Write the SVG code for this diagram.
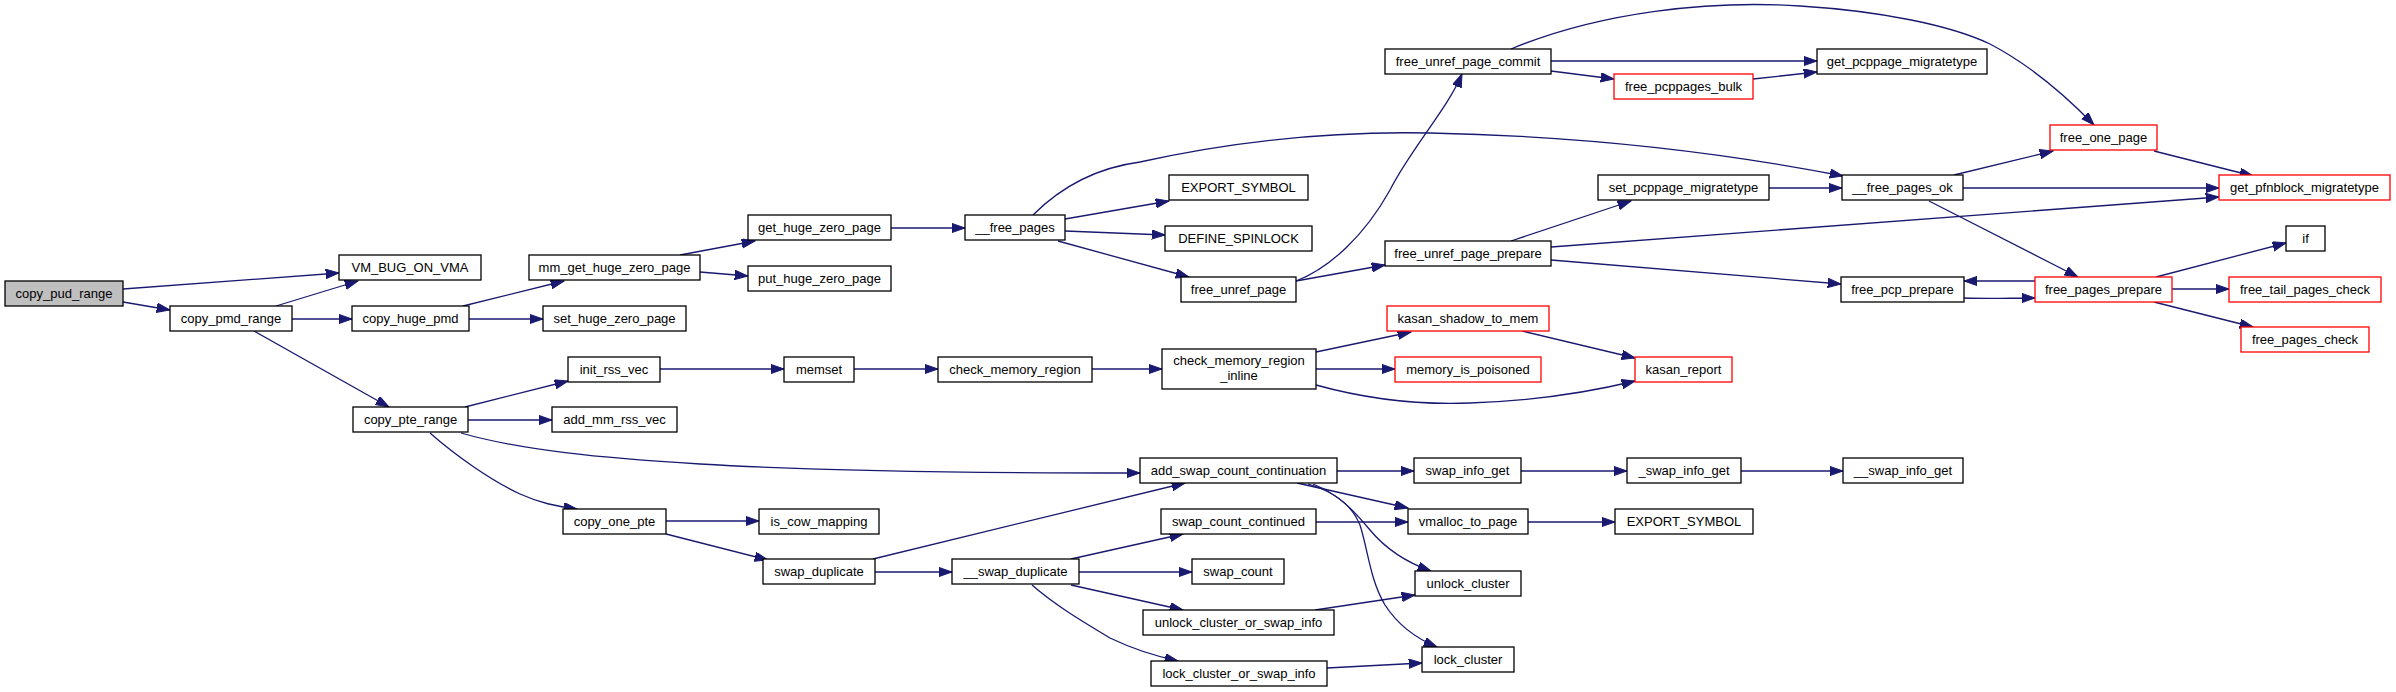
<svg xmlns="http://www.w3.org/2000/svg" width="2396" height="692" viewBox="0 0 2396 692">
<style>
.n rect{fill:#fff;stroke:#000;stroke-width:1.3}
.n.g rect{fill:#bfbfbf}
.n.r rect{stroke:#ff0000}
text{font-family:"Liberation Sans",Arial,Helvetica,sans-serif;font-size:13px;text-anchor:middle;fill:#000}
#edges path{fill:none;stroke:#191970;stroke-width:1.3;marker-end:url(#a)}
</style>
<defs>
<marker id="a" markerUnits="userSpaceOnUse" markerWidth="14" markerHeight="10" refX="13.3" refY="4.67" orient="auto">
<path d="M0,0 L13.3,4.67 L0,9.33 z" fill="#191970" stroke="#191970" stroke-width="1"/>
</marker>
</defs>
<rect width="2396" height="692" fill="#fff"/>
<g id="edges">
<path d="M123,289 L339,273"/>
<path d="M123,302 L170,310"/>
<path d="M276,306 L358,281"/>
<path d="M292,319 L352,319"/>
<path d="M254,331 L389,407"/>
<path d="M463,306 L564,281"/>
<path d="M469,319 L543,319"/>
<path d="M680,255 L755,241"/>
<path d="M700,272 L748,276"/>
<path d="M891,228 L965,228"/>
<path d="M1033,215 C1060,188 1095,168 1140,162 C1230,142 1330,131 1430,133 C1580,136 1720,152 1843,176"/>
<path d="M1065,219 L1169,201"/>
<path d="M1065,231 L1165,235"/>
<path d="M1058,241 L1189,277"/>
<path d="M1296,281 C1330,268 1365,235 1390,190 C1410,150 1448,108 1462,74"/>
<path d="M1296,281 L1385,265"/>
<path d="M1551,61 L1817,61"/>
<path d="M1551,71 L1614,79"/>
<path d="M1511,49 C1600,12 1710,0 1800,6 C1880,11 1950,25 1990,44 C2030,65 2065,95 2094,125"/>
<path d="M1753,79 L1817,72"/>
<path d="M1511,241 L1631,201"/>
<path d="M1551,247 L2219,197"/>
<path d="M1551,260 L1841,284"/>
<path d="M1769,188 L1842,188"/>
<path d="M1954,175 L2053,151"/>
<path d="M1963,188 L2219,188"/>
<path d="M1929,201 L2078,277"/>
<path d="M2154,151 L2253,176"/>
<path d="M1964,298 C1990,299 2010,298 2035,298"/>
<path d="M2035,281 L1964,281"/>
<path d="M2156,277 L2286,243"/>
<path d="M2172,289 L2229,289"/>
<path d="M2154,302 L2253,327"/>
<path d="M465,407 L568,381"/>
<path d="M468,420 L552,420"/>
<path d="M461,433 C520,450 600,458 700,464 C820,471 950,473 1140,473"/>
<path d="M660,369 L784,369"/>
<path d="M854,369 L938,369"/>
<path d="M1092,369 L1162,369"/>
<path d="M1316,352 L1411,332"/>
<path d="M1316,369 L1395,369"/>
<path d="M1316,385 C1370,400 1420,405 1470,403 C1530,401 1590,392 1635,381"/>
<path d="M1522,331 L1635,358"/>
<path d="M430,433 C455,455 490,480 520,494 C540,503 555,506 577,509"/>
<path d="M666,521 L759,521"/>
<path d="M666,534 L768,560"/>
<path d="M873,559 L1185,483"/>
<path d="M875,572 L952,572"/>
<path d="M1337,471 L1414,471"/>
<path d="M1297,483 L1408,508"/>
<path d="M1313,484 C1340,495 1355,512 1370,530 C1385,548 1405,562 1431,571"/>
<path d="M1308,484 C1335,492 1352,505 1360,525 C1368,550 1370,580 1385,605 C1398,625 1415,638 1437,647"/>
<path d="M1521,471 L1627,471"/>
<path d="M1741,471 L1843,471"/>
<path d="M1316,522 L1408,522"/>
<path d="M1528,522 L1615,522"/>
<path d="M1071,559 L1183,534"/>
<path d="M1079,572 L1192,572"/>
<path d="M1071,585 L1183,610"/>
<path d="M1032,585 C1055,605 1080,620 1110,638 C1135,650 1155,656 1178,661"/>
<path d="M1315,610 L1415,595"/>
<path d="M1327,668 L1422,663"/>
</g>
<g id="copy_pud_range" class="n g"><rect x="5" y="281" width="118" height="25"/><text x="64" y="298">copy_pud_range</text></g>
<g id="VM_BUG_ON_VMA" class="n"><rect x="339" y="255" width="142" height="25"/><text x="410" y="272">VM_BUG_ON_VMA</text></g>
<g id="copy_pmd_range" class="n"><rect x="170" y="306" width="122" height="25"/><text x="231" y="323">copy_pmd_range</text></g>
<g id="copy_huge_pmd" class="n"><rect x="352" y="306" width="117" height="25"/><text x="410.5" y="323">copy_huge_pmd</text></g>
<g id="mm_get_huge_zero_page" class="n"><rect x="529" y="255" width="171" height="25"/><text x="614.5" y="272">mm_get_huge_zero_page</text></g>
<g id="set_huge_zero_page" class="n"><rect x="543" y="306" width="143" height="25"/><text x="614.5" y="323">set_huge_zero_page</text></g>
<g id="get_huge_zero_page" class="n"><rect x="748" y="215" width="143" height="25"/><text x="819.5" y="232">get_huge_zero_page</text></g>
<g id="put_huge_zero_page" class="n"><rect x="748" y="266" width="143" height="25"/><text x="819.5" y="283">put_huge_zero_page</text></g>
<g id="__free_pages" class="n"><rect x="965" y="215" width="100" height="25"/><text x="1015" y="232">__free_pages</text></g>
<g id="EXPORT_SYMBOL_1" class="n"><rect x="1169" y="175" width="139" height="25"/><text x="1238.5" y="192">EXPORT_SYMBOL</text></g>
<g id="DEFINE_SPINLOCK" class="n"><rect x="1165" y="226" width="147" height="25"/><text x="1238.5" y="243">DEFINE_SPINLOCK</text></g>
<g id="free_unref_page" class="n"><rect x="1181" y="277" width="115" height="25"/><text x="1238.5" y="294">free_unref_page</text></g>
<g id="free_unref_page_commit" class="n"><rect x="1385" y="49" width="166" height="25"/><text x="1468" y="66">free_unref_page_commit</text></g>
<g id="free_unref_page_prepare" class="n"><rect x="1385" y="241" width="166" height="25"/><text x="1468" y="258">free_unref_page_prepare</text></g>
<g id="get_pcppage_migratetype" class="n"><rect x="1817" y="49" width="170" height="25"/><text x="1902" y="66">get_pcppage_migratetype</text></g>
<g id="free_pcppages_bulk" class="n r"><rect x="1614" y="74" width="139" height="25"/><text x="1683.5" y="91">free_pcppages_bulk</text></g>
<g id="free_one_page" class="n r"><rect x="2050" y="125" width="107" height="25"/><text x="2103.5" y="142">free_one_page</text></g>
<g id="set_pcppage_migratetype" class="n"><rect x="1598" y="175" width="171" height="25"/><text x="1683.5" y="192">set_pcppage_migratetype</text></g>
<g id="__free_pages_ok" class="n"><rect x="1842" y="175" width="121" height="25"/><text x="1902.5" y="192">__free_pages_ok</text></g>
<g id="get_pfnblock_migratetype" class="n r"><rect x="2219" y="175" width="171" height="25"/><text x="2304.5" y="192">get_pfnblock_migratetype</text></g>
<g id="if" class="n"><rect x="2286" y="226" width="39" height="25"/><text x="2305.5" y="243">if</text></g>
<g id="free_pcp_prepare" class="n"><rect x="1841" y="277" width="123" height="25"/><text x="1902.5" y="294">free_pcp_prepare</text></g>
<g id="free_pages_prepare" class="n r"><rect x="2035" y="277" width="137" height="25"/><text x="2103.5" y="294">free_pages_prepare</text></g>
<g id="free_tail_pages_check" class="n r"><rect x="2229" y="277" width="152" height="25"/><text x="2305" y="294">free_tail_pages_check</text></g>
<g id="free_pages_check" class="n r"><rect x="2241" y="327" width="128" height="25"/><text x="2305" y="344">free_pages_check</text></g>
<g id="copy_pte_range" class="n"><rect x="353" y="407" width="115" height="25"/><text x="410.5" y="424">copy_pte_range</text></g>
<g id="init_rss_vec" class="n"><rect x="568" y="357" width="92" height="25"/><text x="614" y="374">init_rss_vec</text></g>
<g id="add_mm_rss_vec" class="n"><rect x="552" y="407" width="125" height="25"/><text x="614.5" y="424">add_mm_rss_vec</text></g>
<g id="memset" class="n"><rect x="784" y="357" width="70" height="25"/><text x="819" y="374">memset</text></g>
<g id="check_memory_region" class="n"><rect x="938" y="357" width="154" height="25"/><text x="1015" y="374">check_memory_region</text></g>
<g id="check_memory_region_inline" class="n"><rect x="1162" y="349" width="154" height="40"/><text x="1239" y="365">check_memory_region</text><text x="1239" y="380">_inline</text></g>
<g id="kasan_shadow_to_mem" class="n r"><rect x="1387" y="306" width="162" height="25"/><text x="1468" y="323">kasan_shadow_to_mem</text></g>
<g id="memory_is_poisoned" class="n r"><rect x="1395" y="357" width="146" height="25"/><text x="1468" y="374">memory_is_poisoned</text></g>
<g id="kasan_report" class="n r"><rect x="1635" y="357" width="97" height="25"/><text x="1683.5" y="374">kasan_report</text></g>
<g id="add_swap_count_continuation" class="n"><rect x="1140" y="458" width="197" height="25"/><text x="1238.5" y="475">add_swap_count_continuation</text></g>
<g id="swap_info_get" class="n"><rect x="1414" y="458" width="107" height="25"/><text x="1467.5" y="475">swap_info_get</text></g>
<g id="_swap_info_get" class="n"><rect x="1627" y="458" width="114" height="25"/><text x="1684" y="475">_swap_info_get</text></g>
<g id="__swap_info_get" class="n"><rect x="1843" y="458" width="120" height="25"/><text x="1903" y="475">__swap_info_get</text></g>
<g id="copy_one_pte" class="n"><rect x="563" y="509" width="103" height="25"/><text x="614.5" y="526">copy_one_pte</text></g>
<g id="is_cow_mapping" class="n"><rect x="759" y="509" width="120" height="25"/><text x="819" y="526">is_cow_mapping</text></g>
<g id="swap_duplicate" class="n"><rect x="763" y="559" width="112" height="25"/><text x="819" y="576">swap_duplicate</text></g>
<g id="__swap_duplicate" class="n"><rect x="952" y="559" width="127" height="25"/><text x="1015.5" y="576">__swap_duplicate</text></g>
<g id="swap_count_continued" class="n"><rect x="1161" y="509" width="155" height="25"/><text x="1238.5" y="526">swap_count_continued</text></g>
<g id="vmalloc_to_page" class="n"><rect x="1408" y="509" width="120" height="25"/><text x="1468" y="526">vmalloc_to_page</text></g>
<g id="EXPORT_SYMBOL_2" class="n"><rect x="1615" y="509" width="138" height="25"/><text x="1684" y="526">EXPORT_SYMBOL</text></g>
<g id="swap_count" class="n"><rect x="1192" y="559" width="92" height="25"/><text x="1238" y="576">swap_count</text></g>
<g id="unlock_cluster" class="n"><rect x="1415" y="571" width="106" height="25"/><text x="1468" y="588">unlock_cluster</text></g>
<g id="unlock_cluster_or_swap_info" class="n"><rect x="1143" y="610" width="191" height="25"/><text x="1238.5" y="627">unlock_cluster_or_swap_info</text></g>
<g id="lock_cluster" class="n"><rect x="1422" y="647" width="92" height="25"/><text x="1468" y="664">lock_cluster</text></g>
<g id="lock_cluster_or_swap_info" class="n"><rect x="1151" y="661" width="176" height="25"/><text x="1239" y="678">lock_cluster_or_swap_info</text></g>
</svg>
